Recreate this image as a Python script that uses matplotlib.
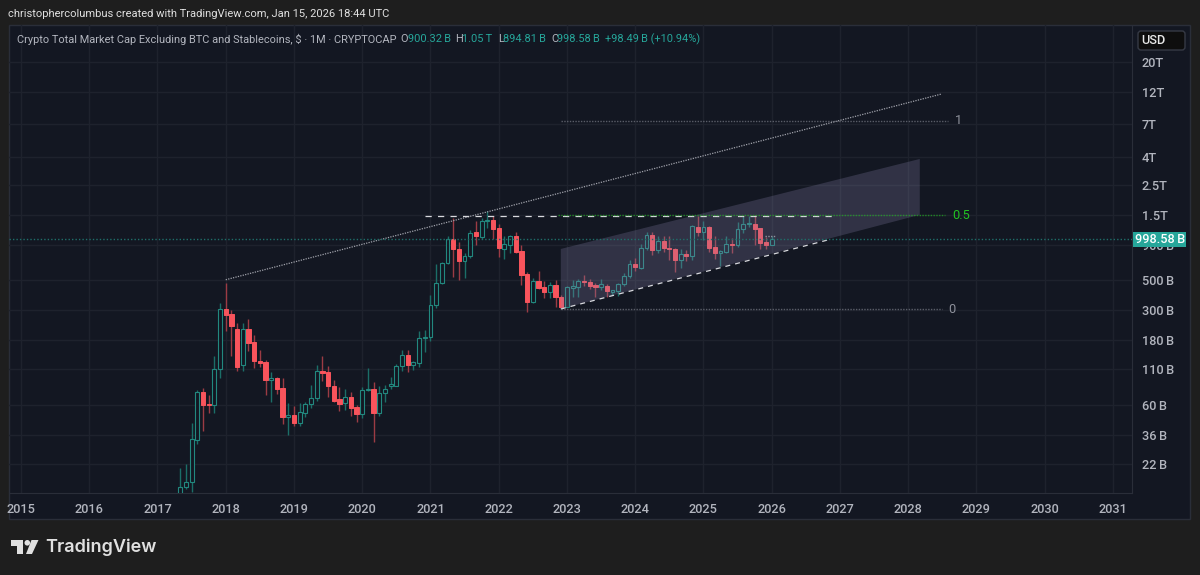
"""Crypto total market cap ex BTC and stablecoins, monthly candles with drawings."""

import matplotlib.pyplot as plt
from matplotlib.patches import Circle, FancyBboxPatch, Polygon, Rectangle

# --- Monthly candles, May 2017 to Jan 2026, in billions USD ---
first_month = 2017 + 4 / 12
opens = [
    12.5, 14.8, 16.3, 33, 74.5, 60.7, 60, 110,
    302, 281, 218, 118, 218, 175, 127, 124, 91, 95, 80, 49,
    50.5, 44.3, 52, 60.7, 67, 106, 104, 83, 66, 62, 69, 57.5,
    51, 76.5, 78, 52, 73, 83, 83, 115, 139, 117.5, 122, 185,
    190, 327, 474, 665, 993, 845, 680, 743, 1115, 1030, 1340, 1380,
    1190, 845, 905, 1040, 815, 553, 345, 485, 438, 405, 458, 370,
    317, 436, 445, 485, 480, 458, 445, 449, 404, 413, 464, 530,
    650, 610, 855, 1069, 829, 965, 860, 845, 700, 770, 752, 1230,
    1130, 1220, 865, 780, 805, 920, 895, 1180, 1285, 1285, 1190, 940,
    900.32,
]
highs = [
    20.4, 21.9, 44.2, 77, 80, 71, 136, 335,
    472, 300, 240, 240, 256, 197, 153, 129, 105, 96, 95, 62,
    59, 62, 63, 84, 117, 137, 116, 90.5, 81, 79, 75, 60,
    81, 112, 87.5, 83, 84, 96, 120, 153, 151, 127, 210, 214,
    387, 650, 670, 1053, 1420, 950, 785, 1163, 1340, 1420, 1590, 1480,
    1280, 1053, 1069, 1115, 902, 570, 511, 575, 490, 482, 499, 387,
    450, 499, 507, 543, 505, 472, 505, 466, 421, 472, 560, 700,
    722, 915, 1130, 1115, 1040, 1040, 1040, 855, 838, 829, 1266, 1470,
    1340, 1245, 1040, 829, 1050, 1010, 1320, 1470, 1470, 1490, 1200, 1030,
    1050,
]
lows = [
    11, 14.4, 13.6, 30.7, 38.7, 52, 52, 95,
    208, 137, 106, 107, 150, 111, 114, 71, 63, 72.5, 43, 35.7,
    42, 42, 48.5, 57, 64, 90, 69, 63, 54, 55, 50, 45,
    48, 75.5, 32, 50, 63, 78, 82, 107, 104, 109, 113, 146,
    178, 308, 466, 650, 527, 499, 511, 722, 902, 993, 1200, 993,
    732, 715, 785, 790, 458, 291, 335, 430, 365, 365, 317, 315,
    315, 375, 375, 450, 430, 375, 421, 375, 387, 381, 449, 511,
    575, 601, 829, 762, 785, 800, 700, 565, 610, 680, 700, 1040,
    982, 805, 715, 630, 785, 780, 870, 1100, 1220, 902, 845, 845,
    894.81,
]
closes = [
    14.8, 16.3, 33.4, 74.5, 60, 60, 110, 302,
    276, 226, 114, 218, 171, 126, 122, 90.5, 95, 79, 49, 50.5,
    44, 53, 60.7, 67.6, 106, 103, 83, 64, 61, 68.5, 57, 51,
    77, 78, 52, 73.5, 79, 85, 115, 139, 118, 123, 185, 190,
    327, 474, 665, 993, 838, 680, 743, 1100, 1040, 1345, 1380, 1180,
    855, 915, 1040, 805, 543, 345, 485, 436, 405, 458, 370, 317,
    438, 450, 485, 477, 450, 445, 466, 412, 416, 464, 530, 650,
    615, 860, 1069, 829, 965, 855, 838, 700, 770, 748, 1245, 1130,
    1220, 860, 780, 815, 915, 895, 1180, 1290, 1300, 1180, 930, 902,
    998.58,
]

# --- Axis ticks ---
year_ticks = list(range(2015, 2032))
price_ticks = [20000, 12000, 7000, 4000, 2500, 1500, 900, 500, 300, 180, 110, 60, 36, 22]
price_labels = ["20T", "12T", "7T", "4T", "2.5T", "1.5T", "900\u2009B", "500\u2009B", "300\u2009B",
                "180\u2009B", "110\u2009B", "60\u2009B", "36\u2009B", "22\u2009B"]

# --- Drawings on the chart (year, billions) ---
last_price = 998.58
upper_trend_x = [2018.0, 2028.49]
upper_trend_y = [499, 11620]
lower_trend_x = [2022.91, 2026.86]
lower_trend_y = [304, 990]
top_dash_x = [2020.92, 2026.88]
top_dash_y = [1465, 1465]
channel_x = [2022.91, 2028.17, 2028.17, 2022.91]
channel_y = [841, 3864, 1500, 304]
fib_levels = [0, 0.5, 1]
fib_prices = [303, 1490, 7358]
fib_x = [[2022.91, 2028.49], [2022.87, 2028.54], [2022.91, 2028.58]]
prev_close_x = [2025.9, 2026.07]
prev_close_y = [1047, 1047]

OUTER = "#1e1e1e"
PANEL = "#131722"
GRID = "#1e222d"
EDGE = "#2a2e39"
UP = "#26a69a"
DOWN = "#f7525f"
AXIS_TEXT = "#b2b5be"

plt.rcParams["font.family"] = ["Roboto", "DejaVu Sans"]

W, H = 1200, 575
fig = plt.figure(figsize=(W / 100, H / 100), dpi=100, facecolor=OUTER)

# overlay in pixel coordinates for the frame, header and logo
bg = fig.add_axes([0, 0, 1, 1], zorder=0)
bg.set_xlim(0, W)
bg.set_ylim(H, 0)
bg.axis("off")
bg.add_patch(Rectangle((9, 25), 1181, 494, fc=PANEL, ec=EDGE, lw=1))

# main price panel, x in years
L, T, R, B = 9, 25, 1132, 493
ax = fig.add_axes([L / W, 1 - B / H, (R - L) / W, (B - T) / H], zorder=1)
ax.set_facecolor("none")
ax.set_yscale("log")
ax.set_xlim(2014.824, 2031.28)
ax.set_ylim(13.45, 37400)
ax.grid(True, color=GRID, lw=1)
ax.set_axisbelow(True)

ax.set_xticks(year_ticks, [str(y) for y in year_ticks])
ax.set_yticks(price_ticks, price_labels)
ax.minorticks_off()
ax.yaxis.tick_right()
ax.tick_params(axis="both", length=0, colors=AXIS_TEXT, labelsize=9.2)
ax.tick_params(axis="y", pad=7)
ax.tick_params(axis="x", pad=7)
for lab in ax.get_xticklabels() + ax.get_yticklabels():
    lab.set_fontweight("medium")
for side in ax.spines:
    ax.spines[side].set_visible(False)
ax.spines["right"].set_visible(True)
ax.spines["bottom"].set_visible(True)
ax.spines["right"].set_color(EDGE)
ax.spines["bottom"].set_color(EDGE)

# candles
for i, (o, h, l, c) in enumerate(zip(opens, highs, lows, closes)):
    x = first_month + i / 12
    if c >= o:
        ax.vlines(x, l, h, color="#1b6e68", lw=1, zorder=2)
        ax.bar(x, c - o, bottom=o, width=0.056, facecolor=PANEL, edgecolor="#22887f", lw=0.8, zorder=3)
    else:
        ax.vlines(x, l, h, color="#9c3b44", lw=1, zorder=2)
        ax.bar(x, o - c, bottom=c, width=0.062, facecolor="#f9545c", edgecolor="#f9545c", lw=0.7, zorder=3)

# channel, trend lines and fib levels
ax.add_patch(Polygon(list(zip(channel_x, channel_y)), closed=True, fc="#8c86b0", alpha=0.25, ec="none", zorder=4))
ax.plot(upper_trend_x, upper_trend_y, color="#a0a2ab", lw=0.9, ls=(0, (1, 1)), zorder=5)
ax.plot(lower_trend_x, lower_trend_y, color="#d8d9de", lw=0.9, ls=(0, (4, 4)), zorder=5)
ax.plot(top_dash_x, top_dash_y, color="#d8d9de", lw=0.9, ls=(0, (5, 5)), zorder=5)
ax.plot(prev_close_x, prev_close_y, color="#8f929c", lw=1, ls=(0, (1, 1)), zorder=5)
ax.axhline(last_price, color="#1f6f6a", lw=1, ls=(0, (1, 1.5)), zorder=5)

for level, price, xs in zip(fib_levels, fib_prices, fib_x):
    col = "#22b322" if level == 0.5 else "#787b86"
    ax.plot(xs, [price, price], color=col, lw=1, ls=(0, (1, 1)), alpha=0.7, zorder=5)
    ax.text(xs[1] + 0.1, price, f"{level:g}", color="#22c322" if level == 0.5 else "#8f929c",
            fontsize=9.2, va="center", ha="left", zorder=6)

# overlay on top of the chart for the tags and header
top = fig.add_axes([0, 0, 1, 1], zorder=2)
top.set_xlim(0, W)
top.set_ylim(H, 0)
top.axis("off")
top.patch.set_alpha(0)

top.add_patch(Rectangle((1133, 232), 53, 15, fc=UP, ec="none"))
top.text(1160, 239.5, f"{last_price:.2f}\u2009B", color="white", fontsize=9.2, fontweight="medium", ha="center", va="center")
top.add_patch(FancyBboxPatch((1138, 31), 47, 19, boxstyle="round,pad=0,rounding_size=3", fc="#0e0e0e", ec="#363a45", lw=1))
top.text(1153, 41, "USD", color="#e8e8e8", fontsize=9.2, fontweight="medium", ha="center", va="center")

top.text(8, 14, "christophercolumbus created with TradingView.com, Jan 15, 2026 18:44 UTC",
         color="#e0e0e0", fontsize=8.0, va="center", ha="left")

# legend line, placed piece by piece
legend_grey = "#b2b5be"
legend_parts = [
    (17, "Crypto Total Market Cap Excluding BTC and Stablecoins, $ · 1M · CRYPTOCAP", legend_grey),
    (400, "O", legend_grey), (408, "900.32\u2009B", UP),
    (455, "H", legend_grey), (462, "1.05\u2009T", UP),
    (498, "L", legend_grey), (503, "894.81\u2009B", UP),
    (551, "C", legend_grey), (557, "998.58\u2009B", UP),
    (605, "+98.49\u2009B (+10.94%)", UP),
]
for px, s, col in legend_parts:
    top.text(px, 39, s, color=col, fontsize=7.95, va="center", ha="left")

# TradingView logo
logo = "#e0e0e0"
top.add_patch(Polygon([(11, 540), (22.7, 540), (22.7, 554), (16.7, 554), (16.7, 546), (11, 546)], closed=True, fc=logo, ec="none"))
top.add_patch(Circle((27.3, 542.8), 2.8, fc=logo, ec="none"))
top.add_patch(Polygon([(31.5, 540), (38.5, 540), (32, 554), (26, 554)], closed=True, fc=logo, ec="none"))
top.text(45, 547.5, "TradingView", color=logo, fontsize=13, fontweight="semibold", family=["Inter", "DejaVu Sans"], va="center", ha="left")

fig.savefig("out.png", dpi=100, facecolor=OUTER)
